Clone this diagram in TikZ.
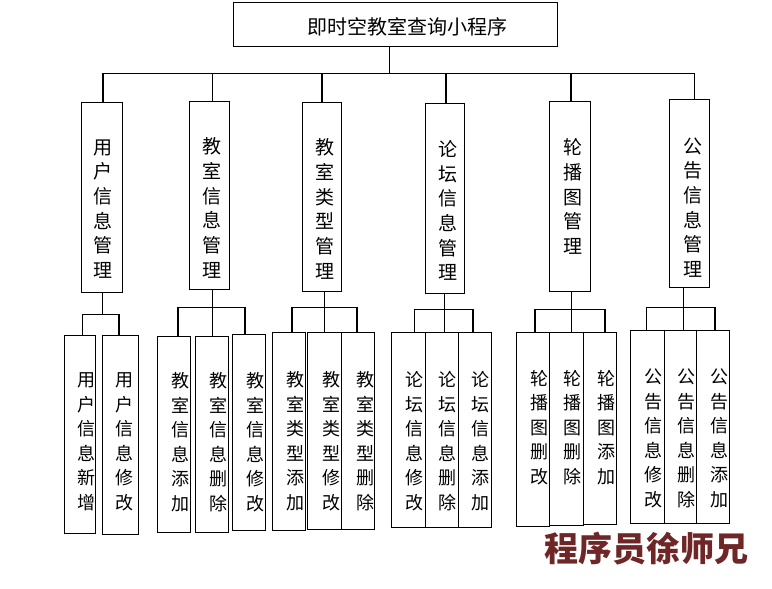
\documentclass[tikz,border=0pt]{standalone}
\usepackage{fontspec}
\newfontfamily\cjk{Noto Sans CJK SC}
\definecolor{wmcol}{RGB}{110,38,38}
\tikzset{
  boxst/.style={draw, line width=1.1pt, inner sep=0pt, outer sep=0pt},
  conn/.style={line width=1.1pt},
  ttl/.style={font=\cjk\fontsize{20}{24}\selectfont, inner sep=0pt},
  lvtwo/.style={font=\cjk\fontsize{19}{24.7}\selectfont, align=center, inner sep=0pt},
  lvthree/.style={font=\cjk\fontsize{18}{24.5}\selectfont, align=center, inner sep=0pt},
  wmark/.style={font=\cjk\bfseries\fontsize{34}{34}\selectfont, text=wmcol, inner sep=0pt}
}
\newcommand\mybox[5]{\node[boxst, minimum width={#4-#2}, minimum height={#5-#3}] (#1) at ({(#2+#4)/2},{(#3+#5)/2}) {};}
\begin{document}
\begin{tikzpicture}[x=1pt,y=-1pt]
\useasboundingbox (0,0) rectangle (772,589);
% top
\mybox{T}{233.5}{2.5}{557.5}{46.5}
\node[ttl] (tT) at (407,26.7) {即时空教室查询小程序};
% level 2
\mybox{m1}{81.5}{102.5}{122.5}{292.5}
\mybox{m2}{189.5}{101.5}{229.5}{289.5}
\mybox{m3}{302.5}{102.5}{341.5}{291.5}
\mybox{m4}{425.5}{103.5}{464.5}{293.5}
\mybox{m5}{549.5}{101.5}{590.5}{291.5}
\mybox{m6}{669.5}{99.5}{709.5}{287.5}
\node[lvtwo] (t1) at (103.3,209) {用\\户\\信\\息\\管\\理};
\node[lvtwo] (t2) at (211.7,208) {教\\室\\信\\息\\管\\理};
\node[lvtwo] (t3) at (325,209) {教\\室\\类\\型\\管\\理};
\node[lvtwo] (t4) at (448.3,210.5) {论\\坛\\信\\息\\管\\理};
\node[lvtwo] (t5) at (572.7,196.5) {轮\\播\\图\\管\\理};
\node[lvtwo] (t6) at (692.7,207.5) {公\\告\\信\\息\\管\\理};
% level 3
\mybox{A}{64.5}{335.5}{95.5}{533.5}
\mybox{B}{102.5}{335.5}{138.5}{534.5}
\mybox{C}{157.5}{336.5}{190.5}{532.5}
\mybox{D}{195.5}{336.5}{228.5}{532.5}
\mybox{E}{232.5}{334.5}{265.5}{530.5}
\mybox{F}{272.5}{332.5}{305.5}{530.5}
\mybox{G}{307.5}{332.5}{341.5}{529.5}
\mybox{H}{341.5}{332.5}{374.5}{529.5}
\mybox{I}{391.5}{332.5}{425.5}{527.5}
\mybox{J}{425.5}{332.5}{458.5}{527.5}
\mybox{K}{458.5}{332.5}{491.5}{527.5}
\mybox{L}{516.5}{332.5}{549.5}{526.5}
\mybox{M}{549.5}{332.5}{583.5}{525.5}
\mybox{N}{583.5}{332.5}{616.5}{524.5}
\mybox{O}{630.5}{330.5}{664.5}{523.5}
\mybox{P}{664.5}{330.5}{696.5}{523.5}
\mybox{Q}{696.5}{330.5}{729.5}{523.5}
\node[lvthree] (tA) at (86.7,442) {用\\户\\信\\息\\新\\增};
\node[lvthree] (tB) at (124.5,442) {用\\户\\信\\息\\修\\改};
\node[lvthree] (tC) at (180,442) {教\\室\\信\\息\\添\\加};
\node[lvthree] (tD) at (218,442) {教\\室\\信\\息\\删\\除};
\node[lvthree] (tE) at (255,442) {教\\室\\信\\息\\修\\改};
\node[lvthree] (tF) at (295,441) {教\\室\\类\\型\\添\\加};
\node[lvthree] (tG) at (331,441) {教\\室\\类\\型\\修\\改};
\node[lvthree] (tH) at (365,441) {教\\室\\类\\型\\删\\除};
\node[lvthree] (tI) at (414,441) {论\\坛\\信\\息\\修\\改};
\node[lvthree] (tJ) at (447.7,441) {论\\坛\\信\\息\\删\\除};
\node[lvthree] (tK) at (480,441) {论\\坛\\信\\息\\添\\加};
\node[lvthree] (tL) at (539.3,427.5) {轮\\播\\图\\删\\改};
\node[lvthree] (tM) at (572.7,427.5) {轮\\播\\图\\删\\除};
\node[lvthree] (tN) at (606,427.5) {轮\\播\\图\\添\\加};
\node[lvthree] (tO) at (653.3,438.5) {公\\告\\信\\息\\修\\改};
\node[lvthree] (tP) at (686.7,438.5) {公\\告\\信\\息\\删\\除};
\node[lvthree] (tQ) at (719,438.5) {公\\告\\信\\息\\添\\加};
% connectors top
\coordinate (tb) at (389.5,73.5);
\draw[conn] (T.south -| tb) -- (tb);
\draw[conn] (tb) -| ([xshift=1pt]m1.north);
\draw[conn] (tb) -| ([xshift=3pt]m2.north);
\draw[conn] (tb) -| ([xshift=0pt]m3.north);
\draw[conn] (tb) -| ([xshift=1pt]m4.north);
\draw[conn] (tb) -| ([xshift=1pt]m5.north);
\draw[conn] (tb) -| ([xshift=5pt]m6.north);
% group 1
\coordinate (g1) at (102.5,314.5);
\draw[conn] (m1.south -| g1) -- (g1);
\draw[conn] ([xshift=2.5pt]A.north) |- (g1) -| ([xshift=-1.5pt]B.north);
% group 2
\coordinate (g2) at (212.5,307.5);
\draw[conn] (m2.south -| g2) -- (g2) -- (g2 |- D.north);
\draw[conn] ([xshift=4pt]C.north) |- (g2) -| ([xshift=-4pt]E.north);
% group 3
\coordinate (g3) at (324.5,307.5);
\draw[conn] (m3.south -| g3) -- (g3) -- (g3 |- G.north);
\draw[conn] ([xshift=3pt]F.north) |- (g3) -| ([xshift=-1pt]H.north);
% group 4
\coordinate (g4) at (444.5,309.5);
\draw[conn] (m4.south -| g4) -- (g4) -- (g4 |- J.north);
\draw[conn] ([xshift=6pt]I.north) |- (g4) -| ([xshift=-2pt]K.north);
% group 5
\coordinate (g5) at (571.5,309.5);
\draw[conn] (m5.south -| g5) -- (g5) -- (g5 |- M.north);
\draw[conn] ([xshift=2pt]L.north) |- (g5) -| ([xshift=5pt]N.north);
% group 6
\coordinate (g6) at (683.5,307.5);
\draw[conn] (m6.south -| g6) -- (g6) -- (g6 |- P.north);
\draw[conn] ([xshift=-1pt]O.north) |- (g6) -| ([xshift=2pt]Q.north);
% watermark
\node[wmark] (wm) at (646.3,548.3) {程序员徐师兄};
\end{tikzpicture}
\end{document}
